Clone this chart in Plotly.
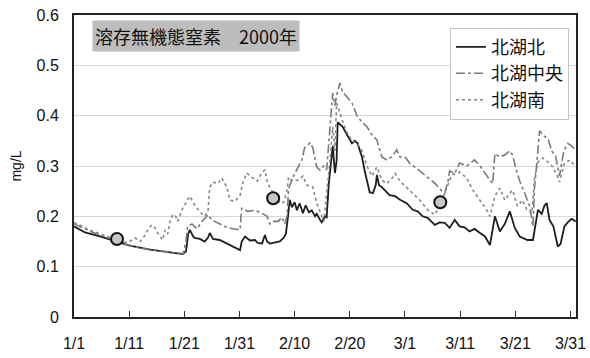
import pandas as pd
import plotly.graph_objects as go

# Days elapsed since 2000-01-01 00:00 and dissolved inorganic nitrogen (mg/L)
north_days = [0, 2, 4.7, 7.8, 10.1, 13.8, 16.5, 18.7, 19.7, 20.3, 20.7, 21.0, 21.6, 21.9, 22.8, 23.7,
              24.3, 24.6, 25.2, 26.4, 27.4, 28.3, 29.2, 30.1, 30.4, 31.0, 31.9, 32.8, 33.3, 34.1, 34.6,
              35.0, 35.5, 36.4, 37.3, 38.0, 38.4, 38.8, 39.1, 39.5, 40.0, 40.4, 40.9, 41.5, 42.0, 42.6,
              43.1, 43.7, 44.0, 44.6, 44.9, 45.5, 45.8, 46.2, 46.7, 46.9, 47.3, 47.6, 47.8, 48.7, 49.6,
              50.4, 50.9, 51.4, 52.2, 52.7, 53.6, 54.2, 54.7, 54.9, 55.3, 55.8, 56.5, 57.2, 58.2, 59.1,
              60.3, 61.4, 62.3, 63.2, 64.1, 65.4, 66.3, 67.2, 68.1, 69.0, 69.9, 70.8, 71.7, 72.6, 73.6,
              74.5, 75.4, 75.9, 76.3, 77.2, 78.1, 79.0, 79.9, 80.8, 81.7, 82.2, 83.2, 83.7, 84.1, 84.8,
              85.3, 85.7, 86.2, 86.9, 87.7, 88.2, 88.9, 89.5, 90.2, 90.95]
north_vals = [0.180, 0.168, 0.160, 0.150, 0.142, 0.134, 0.130, 0.127, 0.125, 0.130, 0.165, 0.173, 0.160,
              0.157, 0.155, 0.150, 0.158, 0.167, 0.155, 0.153, 0.148, 0.143, 0.138, 0.133, 0.150, 0.160,
              0.152, 0.153, 0.147, 0.146, 0.163, 0.150, 0.146, 0.148, 0.150, 0.157, 0.165, 0.200, 0.233,
              0.218, 0.228, 0.212, 0.226, 0.206, 0.222, 0.208, 0.212, 0.200, 0.205, 0.193, 0.188, 0.200,
              0.198, 0.266, 0.318, 0.340, 0.286, 0.310, 0.387, 0.378, 0.360, 0.345, 0.350, 0.345, 0.318,
              0.290, 0.248, 0.246, 0.262, 0.282, 0.262, 0.258, 0.250, 0.242, 0.240, 0.233, 0.226, 0.213,
              0.210, 0.200, 0.197, 0.183, 0.188, 0.187, 0.177, 0.193, 0.180, 0.178, 0.170, 0.175, 0.167,
              0.160, 0.143, 0.180, 0.200, 0.170, 0.185, 0.210, 0.177, 0.160, 0.155, 0.153, 0.153, 0.190,
              0.213, 0.205, 0.222, 0.226, 0.193, 0.180, 0.140, 0.145, 0.180, 0.188, 0.195, 0.190]

center_days = [0, 3, 6, 9, 12, 15, 18, 19.8, 20.3, 20.6, 21.4, 22.3, 23.2, 24.3, 25.0, 25.5, 26.8, 27.9,
               29.2, 30.1, 30.4, 31.5, 32.8, 34.1, 35.0, 35.5, 35.9, 37.0, 37.7, 38.2, 38.6, 38.9, 39.7,
               40.6, 41.3, 41.8, 42.8, 43.3, 44.0, 44.6, 45.3, 45.8, 46.4, 46.7, 46.9, 47.3, 47.6, 48.2,
               48.7, 49.5, 50.4, 51.3, 52.2, 53.1, 54.0, 54.9, 55.8, 56.7, 57.6, 58.5, 59.1, 60.0, 60.9,
               61.8, 62.7, 64.1, 65.4, 66.7, 67.2, 67.8, 68.1, 69.0, 69.9, 71.2, 72.6, 73.6, 74.5, 75.4,
               75.9, 76.3, 77.2, 78.1, 79.0, 79.5, 80.1, 80.8, 81.7, 82.6, 83.2, 83.5, 83.9, 84.4, 85.1,
               85.9, 86.6, 87.3, 88.0, 88.8, 89.5, 90.2, 90.95]
center_vals = [0.185, 0.170, 0.158, 0.146, 0.137, 0.132, 0.128, 0.126, 0.150, 0.180, 0.185, 0.175, 0.190,
               0.203, 0.192, 0.190, 0.183, 0.177, 0.175, 0.173, 0.216, 0.210, 0.212, 0.206, 0.200, 0.185,
               0.190, 0.190, 0.198, 0.185, 0.200, 0.255, 0.278, 0.298, 0.312, 0.336, 0.346, 0.336, 0.298,
               0.292, 0.300, 0.292, 0.378, 0.410, 0.445, 0.420, 0.440, 0.465, 0.447, 0.437, 0.425, 0.400,
               0.387, 0.378, 0.362, 0.352, 0.318, 0.312, 0.318, 0.332, 0.318, 0.318, 0.305, 0.298, 0.290,
               0.278, 0.266, 0.250, 0.246, 0.270, 0.290, 0.285, 0.306, 0.300, 0.312, 0.300, 0.285, 0.272,
               0.265, 0.325, 0.318, 0.322, 0.330, 0.322, 0.295, 0.270, 0.246, 0.220, 0.180, 0.260, 0.306,
               0.370, 0.360, 0.355, 0.330, 0.320, 0.280, 0.330, 0.345, 0.340, 0.330]

south_days = [0, 3, 6, 7.8, 8.7, 10.1, 11.1, 12.0, 12.7, 13.4, 14.1, 14.7, 15.0, 15.6, 16.1, 16.5, 17.0,
              17.4, 17.9, 18.3, 18.8, 19.7, 20.5, 21.0, 21.9, 22.8, 23.7, 24.3, 24.6, 25.2, 26.1, 26.8,
              27.7, 28.3, 29.2, 30.1, 30.6, 31.3, 32.2, 33.2, 34.1, 34.6, 35.1, 35.9, 36.6, 37.3, 38.0,
              38.6, 38.9, 39.7, 40.6, 41.5, 42.2, 43.3, 44.0, 44.9, 45.3, 45.8, 46.4, 46.9, 47.3, 47.6,
              48.4, 49.3, 50.4, 51.3, 52.2, 53.1, 54.0, 54.9, 55.8, 56.7, 57.6, 58.2, 59.1, 60.0, 60.9,
              61.8, 62.7, 64.1, 65.4, 66.3, 67.6, 68.5, 69.9, 71.2, 72.3, 73.6, 74.8, 75.4, 76.3, 77.2,
              78.1, 79.0, 79.5, 80.4, 81.3, 82.1, 83.0, 83.5, 84.1, 85.0, 85.9, 86.8, 87.7, 88.0, 88.9,
              89.9, 90.95]
south_vals = [0.188, 0.172, 0.160, 0.152, 0.147, 0.150, 0.157, 0.150, 0.160, 0.173, 0.183, 0.177, 0.170,
              0.160, 0.153, 0.173, 0.165, 0.190, 0.203, 0.203, 0.190, 0.216, 0.230, 0.240, 0.222, 0.209,
              0.200, 0.210, 0.258, 0.268, 0.265, 0.276, 0.258, 0.232, 0.230, 0.242, 0.266, 0.286, 0.278,
              0.270, 0.288, 0.292, 0.266, 0.250, 0.240, 0.226, 0.228, 0.250, 0.278, 0.270, 0.272, 0.280,
              0.262, 0.258, 0.226, 0.200, 0.190, 0.246, 0.310, 0.378, 0.330, 0.425, 0.400, 0.370, 0.350,
              0.345, 0.330, 0.300, 0.280, 0.298, 0.272, 0.265, 0.275, 0.285, 0.270, 0.260, 0.250, 0.240,
              0.232, 0.213, 0.203, 0.222, 0.258, 0.282, 0.288, 0.276, 0.252, 0.232, 0.213, 0.200, 0.240,
              0.256, 0.232, 0.246, 0.252, 0.220, 0.232, 0.213, 0.206, 0.278, 0.308, 0.316, 0.308, 0.298,
              0.278, 0.268, 0.305, 0.312, 0.298]

# Spot survey measurements
survey_days = [7.8, 36.1, 66.4]
survey_vals = [0.155, 0.236, 0.228]

series_names = ["北湖北", "北湖中央", "北湖南"]
chart_title = "溶存無機態窒素\u30002000年"
y_title = "mg/L"
tick_labels = ["1/1", "1/11", "1/21", "1/31", "2/10", "2/20", "3/1", "3/11", "3/21", "3/31"]
tick_days = [0, 10, 20, 30, 40, 50, 60, 70, 80, 90]

base = pd.Timestamp("2000-01-01")


def to_time(days):
    return base + pd.to_timedelta(days, unit="D")


LATIN = "Liberation Sans, Arial, sans-serif"
CJK = "Noto Sans CJK JP, Liberation Sans, sans-serif"

fig = go.Figure()
styles = [
    (north_days, north_vals, dict(color="#1e1e1e", width=1.8, dash="solid")),
    (center_days, center_vals, dict(color="#7a7a7a", width=1.6, dash="dashdot")),
    (south_days, south_vals, dict(color="#868686", width=1.6, dash="dot")),
]
for name, (d, v, line) in zip(series_names, styles):
    fig.add_trace(go.Scatter(x=to_time(d), y=v, mode="lines", name=name, line=line,
                             legendgroup=name))

fig.add_trace(go.Scatter(
    x=to_time(survey_days), y=survey_vals, mode="markers", showlegend=False,
    marker=dict(size=12, color="#c6c6c6", line=dict(color="#111", width=2)),
))

fig.add_annotation(
    text=chart_title, xref="paper", yref="paper", x=0.036, y=0.985,
    xanchor="left", yanchor="top", showarrow=False,
    font=dict(family=CJK, size=18, color="#111"),
    bgcolor="#bdbdbd", borderpad=2,
)

fig.update_layout(
    width=590, height=358,
    margin=dict(l=74, r=14, t=15, b=41),
    paper_bgcolor="white", plot_bgcolor="white",
    font=dict(family=LATIN, size=16, color="#111"),
    legend=dict(
        x=0.986, y=0.958, xanchor="right", yanchor="top",
        bgcolor="white", bordercolor="#c4c4c4", borderwidth=1,
        font=dict(family=CJK, size=18, color="#111"),
        tracegroupgap=0,
    ),
)

fig.update_xaxes(
    type="date", range=[base, to_time(91)],
    tickvals=to_time(tick_days), ticktext=tick_labels,
    ticks="inside", ticklen=6, tickwidth=1, tickcolor="#333",
    showgrid=False, showline=True, linecolor="#222", linewidth=2, mirror=True,
    ticklabelstandoff=11, automargin=False,
)
fig.update_yaxes(
    range=[0, 0.6], tickvals=[0, 0.1, 0.2, 0.3, 0.4, 0.5, 0.6],
    ticktext=["0", "0.1", "0.2", "0.3", "0.4", "0.5", "0.6"],
    showgrid=True, gridcolor="#d8d8d8", gridwidth=1, zeroline=False,
    showline=True, linecolor="#222", linewidth=2, mirror=True,
    ticklabelstandoff=10, automargin=False,
    title=dict(text=y_title, font=dict(family=LATIN, size=14), standoff=12),
)

fig.write_html("out.html")
